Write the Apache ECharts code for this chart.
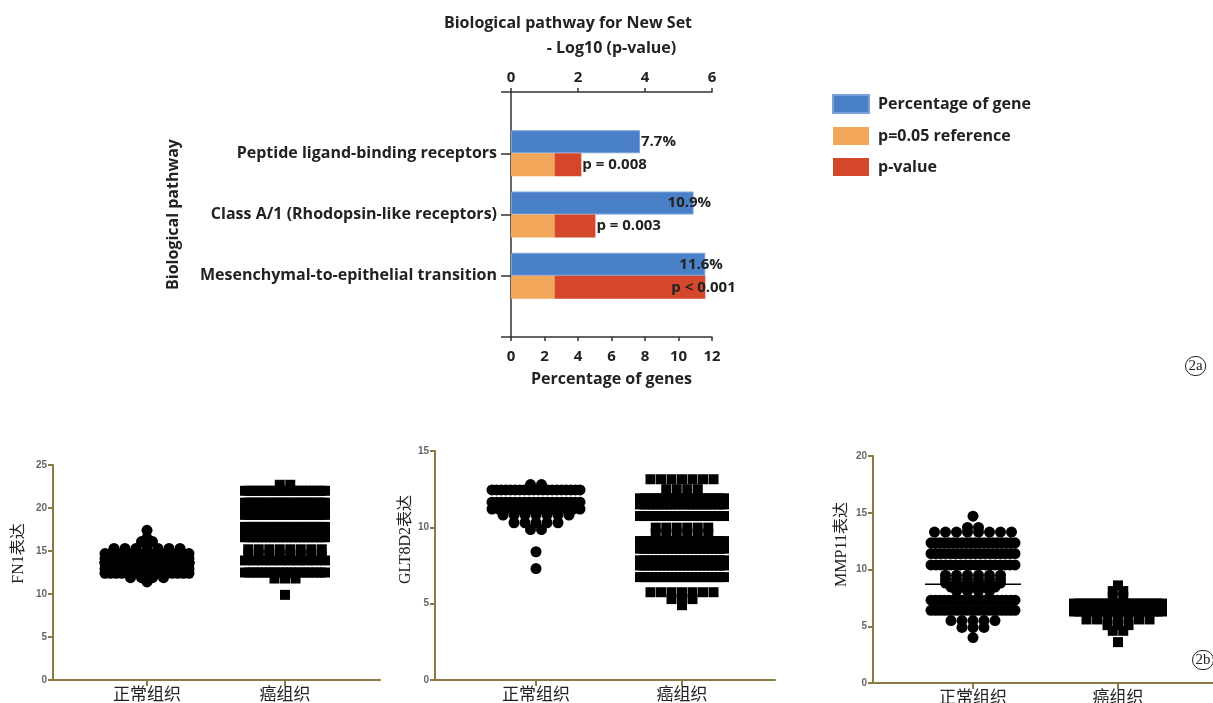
<!DOCTYPE html>
<html>
<head>
<meta charset="utf-8">
<script src="https://cdn.jsdelivr.net/npm/echarts@6/dist/echarts.min.js"></script>
<style>
  html, body { margin: 0; padding: 0; background: #fff; }
  #chart { width: 1213px; height: 703px; }
</style>
</head>
<body>
<div id="chart"></div>
<script>
// ---- 2a: pathway bars ----
const pathways = [
  'Peptide ligand-binding receptors',
  'Class A/1 (Rhodopsin-like receptors)',
  'Mesenchymal-to-epithelial transition'
];
const genePercent = [7.7, 10.9, 11.6];     // bottom axis, %
const refNegLog = [1.3, 1.3, 1.3];         // -log10(0.05)
const pNegLog = [2.1, 2.52, 5.8];          // -log10(p)
const pLabels = ['p = 0.008', 'p = 0.003', 'p < 0.001'];

// ---- 2b: dot plots, rows of [value, number of points] ----
const tissues = ['正常组织', '癌组织'];
const fn1Normal = [[17.4,1],[16.5,1],[16.1,2],[15.3,7],[14.7,16],[14.1,18],[13.5,18],[12.9,18],[12.4,16],[11.9,4],[11.4,1]];
const fn1Cancer = [[22.7,2],[22.0,22],[20.62,24],[19.9,26],[19.2,24],[17.8,24],[17.1,22],[16.6,20],[15.2,8],[14.6,8],[13.9,10],[12.5,20],[11.8,3],[9.9,1]];
const glt8d2Normal = [[12.8,2],[12.45,20],[11.65,20],[11.2,14],[10.8,7],[10.3,5],[9.85,2],[8.4,1],[7.3,1]];
const glt8d2Cancer = [[13.15,7],[12.5,4],[11.9,20],[11.5,20],[10.74,20],[9.98,6],[9.6,6],[9.1,22],[8.6,22],[7.84,22],[7.5,22],[6.74,22],[5.75,7],[5.3,3],[4.9,1]];
const mmp11Normal = [[14.7,1],[13.7,2],[13.3,8],[12.35,20],[11.4,20],[10.4,18],[9.5,6],[9.15,6],[8.8,6],[8.45,5],[8.1,4],[7.3,20],[6.4,20],[5.5,5],[4.9,3],[4.0,1]];
const mmp11Cancer = [[8.6,1],[8.1,2],[7.6,2],[7.0,20],[6.3,20],[5.6,7],[5.1,3],[4.6,2],[3.6,1]];
const fn1Mean = [13.7, 17.3];
const glt8d2Mean = [11.4, 8.9];
const mmp11Mean = [8.7, 6.3];

// ---- styles / layout ----
const SANS = "'Open Sans', sans-serif";
const SERIF = "'Liberation Serif', 'Noto Sans CJK SC', serif";
const BLUE = '#4a80c8', ORANGE = '#f2a75b', RED = '#d4472a';
const OLIVE = '#8a7a48';
const pctLabelShift = [0, -27, -27];
const pLabelShift = [0, 0, -35];
const meanHalfWidth = [48, 42];   // px, normal / cancer

const pad = arr => ['-', ...arr, '-'];
const boldText = size => ({ fontFamily: SANS, fontWeight: 'bold', fontSize: size, color: '#222' });

const chart = echarts.init(document.getElementById('chart'));

const grids = [{ left: 511, top: 92, width: 201, height: 245, outerBoundsMode: 'none' }];
const xAxes = [
  {
    gridIndex: 0, type: 'value', position: 'bottom', min: 0, max: 12, interval: 2,
    name: 'Percentage of genes', nameLocation: 'middle', nameGap: 34,
    nameTextStyle: boldText(16),
    axisLine: { show: true, lineStyle: { color: '#333', width: 1.5 } },
    axisTick: { show: true, length: 4, lineStyle: { color: '#333', width: 1.5 } },
    axisLabel: Object.assign({ margin: 12 }, boldText(15)),
    splitLine: { show: false }
  },
  {
    gridIndex: 0, type: 'value', position: 'top', min: 0, max: 6, interval: 2,
    name: '- Log10 (p-value)', nameLocation: 'middle', nameGap: 36,
    nameTextStyle: boldText(16),
    axisLine: { show: true, lineStyle: { color: '#333', width: 1.5 } },
    axisTick: { show: true, length: 4, lineStyle: { color: '#333', width: 1.5 } },
    axisLabel: Object.assign({ margin: 7 }, boldText(15)),
    splitLine: { show: false }
  }
];
const yAxes = [
  {
    gridIndex: 0, type: 'category', inverse: true, boundaryGap: false,
    data: ['', ...pathways, ''],
    name: 'Biological pathway', nameLocation: 'middle', nameGap: 330, nameRotate: 90,
    nameTextStyle: boldText(16),
    axisLine: { show: true, lineStyle: { color: '#333', width: 1.5 } },
    axisTick: { show: true, length: 10, lineStyle: { color: '#333', width: 1.5 } },
    axisLabel: Object.assign({ margin: 14 }, boldText(16)),
    splitLine: { show: false }
  }
];

const series = [
  {
    name: 'Percentage of gene', type: 'bar', xAxisIndex: 0, yAxisIndex: 0,
    barWidth: 23, barGap: '0%',
    itemStyle: { color: BLUE, borderColor: '#79a2d8', borderWidth: 1 },
    label: Object.assign({
      show: true, position: 'right', distance: 1,
      formatter: p => p.value + '%'
    }, boldText(15)),
    data: pad(genePercent.map((v, i) => ({ value: v, label: { offset: [pctLabelShift[i], 0] } })))
  },
  {
    name: 'p=0.05 reference', type: 'bar', xAxisIndex: 1, yAxisIndex: 0,
    stack: 'p', barWidth: 23,
    itemStyle: { color: ORANGE },
    data: pad(refNegLog)
  },
  {
    name: 'p-value', type: 'bar', xAxisIndex: 1, yAxisIndex: 0,
    stack: 'p', barWidth: 23,
    itemStyle: { color: RED },
    label: Object.assign({
      show: true, position: 'right', distance: 1,
      formatter: p => pLabels[p.dataIndex - 1]
    }, boldText(15)),
    data: pad(pNegLog.map((v, i) => ({
      value: +(v - refNegLog[i]).toFixed(2),
      label: { offset: [pLabelShift[i], 0] }
    })))
  }
];

// dot plot panels
const panels = [
  { name: 'FN1表达', left: 53, top: 465, width: 327, height: 215, yMax: 25, firstCat: 94, catStep: 138,
    nameGap: 26, nameShift: 19, groups: [fn1Normal, fn1Cancer], means: fn1Mean, maxW: [84, 80] },
  { name: 'GLT8D2表达', left: 435, top: 451, width: 340, height: 229, yMax: 15, firstCat: 101, catStep: 146,
    nameGap: 21, nameShift: 26, groups: [glt8d2Normal, glt8d2Cancer], means: glt8d2Mean, maxW: [88, 84] },
  { name: 'MMP11表达', left: 873, top: 456, width: 340, height: 227, yMax: 20, firstCat: 100, catStep: 145,
    nameGap: 23, nameShift: 25, groups: [mmp11Normal, mmp11Cancer], means: mmp11Mean, maxW: [84, 88] }
];
const shapes = [
  { symbol: 'circle', size: 11, gap: 11 },
  { symbol: 'rect', size: 10, gap: 10.5 }
];

// spread each row of a group sideways around its category position
function swarm(rows, cat, shape, maxW, pxPerUnit) {
  const pts = [];
  rows.forEach(([v, n]) => {
    const step = n > 1 ? Math.min(shape.gap, maxW / (n - 1)) : 0;
    for (let i = 0; i < n; i++) {
      pts.push([cat + (i - (n - 1) / 2) * step / pxPerUnit, v]);
    }
  });
  return pts;
}

panels.forEach((p, k) => {
  const gi = k + 1;          // grid / yAxis index
  const xi = xAxes.length;   // xAxis index (top chart uses two)
  const minX = 1 - p.firstCat / p.catStep;
  const maxX = minX + p.width / p.catStep;
  grids.push({ left: p.left, top: p.top, width: p.width, height: p.height, outerBoundsMode: 'none' });
  xAxes.push({
    gridIndex: gi, type: 'value', min: minX, max: maxX,
    axisLine: { show: true, onZero: false, lineStyle: { color: OLIVE, width: 2 } },
    axisTick: { show: true, length: 6, customValues: [1, 2], lineStyle: { color: OLIVE, width: 2 } },
    axisLabel: {
      customValues: [1, 2], margin: 7,
      fontFamily: SERIF, fontSize: 17, color: '#222',
      formatter: v => tissues[Math.round(v) - 1]
    },
    splitLine: { show: false }
  });
  yAxes.push({
    gridIndex: gi, type: 'value', min: 0, max: p.yMax, interval: 5,
    name: p.name, nameLocation: 'middle', nameGap: p.nameGap,
    nameTextStyle: { fontFamily: SERIF, fontSize: 16, color: '#222', padding: [0, 0, 0, p.nameShift * 2] },
    axisLine: { show: true, lineStyle: { color: OLIVE, width: 2 } },
    axisTick: { show: true, length: 5, lineStyle: { color: OLIVE, width: 2 } },
    axisLabel: { margin: 6, fontFamily: "'Liberation Sans', Arial, sans-serif", fontWeight: 'bold', fontSize: 10, color: '#666' },
    splitLine: { show: false }
  });
  const pxPerUnit = p.catStep;
  p.groups.forEach((rows, g) => {
    const cat = g + 1;
    const shape = shapes[g];
    const hw = meanHalfWidth[g] / pxPerUnit;
    series.push({
      type: 'scatter', xAxisIndex: xi, yAxisIndex: gi,
      symbol: shape.symbol, symbolSize: shape.size, silent: true,
      itemStyle: { color: '#000', opacity: 1 },
      data: swarm(rows, cat, shape, p.maxW[g], pxPerUnit)
    });
    // mean line
    series.push({
      type: 'line', xAxisIndex: xi, yAxisIndex: gi, silent: true,
      symbol: 'none', lineStyle: { color: '#000', width: 1.5 },
      data: [[cat - hw, p.means[g]], [cat + hw, p.means[g]]]
    });
  });
});

chart.setOption({
  animation: false,
  backgroundColor: '#fff',
  title: {
    text: 'Biological pathway for New Set', left: 563, top: 10, textAlign: 'center',
    textStyle: boldText(16)
  },
  legend: {
    orient: 'vertical', left: 832, top: 94, padding: 0,
    itemWidth: 36, itemHeight: 18, itemGap: 13,
    icon: 'rect', selectedMode: false,
    data: ['Percentage of gene', 'p=0.05 reference', 'p-value'],
    textStyle: Object.assign({ padding: [0, 0, 0, 4] }, boldText(16))
  },
  grid: grids,
  xAxis: xAxes,
  yAxis: yAxes,
  series: series,
  graphic: [
    {
      type: 'text', left: 1185, top: 356,
      style: {
        text: '2a', font: '15px ' + SERIF, fill: '#222',
        borderColor: '#222', borderWidth: 1, borderRadius: 11, padding: [2, 3, 2, 3]
      }
    },
    {
      type: 'text', left: 1192, top: 650,
      style: {
        text: '2b', font: '15px ' + SERIF, fill: '#222',
        borderColor: '#222', borderWidth: 1, borderRadius: 11, padding: [2, 3, 2, 3]
      }
    }
  ]
});
</script>
</body>
</html>
